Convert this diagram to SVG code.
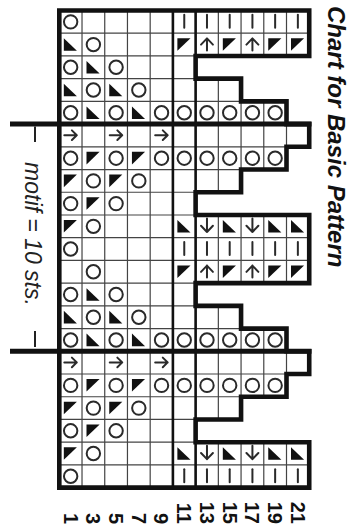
<svg xmlns="http://www.w3.org/2000/svg" width="350" height="530" viewBox="0 0 350 530">
<style>
.thin{stroke:#444;stroke-width:1.2;fill:none}
.sym{stroke:#2a2a2a;stroke-width:2;fill:none;stroke-linecap:round;stroke-linejoin:round}
.tri{fill:#111}
.thick{stroke:#111;fill:none}
.num{font-family:"Liberation Sans",Arial,sans-serif;font-weight:bold;font-size:20px;fill:#111}
</style>
<defs>
<circle id="o" class="sym" cx="11.36" cy="11.36" r="6.7"/>
<polygon id="dl" class="tri" points="4.5,5 4.5,17.6 17.6,17.6"/>
<polygon id="ul" class="tri" points="4.5,5 17.6,5 4.5,17.6"/>
<path id="ar" class="sym" d="M5,11.1 H17.5 M12.6,6.3 L17.5,11.1 L12.6,15.9"/>
<path id="au" class="sym" d="M11.36,5.2 V17.2 M5.4,11.4 L11.36,5.2 L17.3,11.4"/>
<path id="ad" class="sym" d="M11.36,3.5 V17 M5.4,10.8 L11.36,17 L17.3,10.8"/>
<path id="b" class="sym" d="M11.36,4.3 V17.3"/>
</defs>
<rect width="350" height="530" fill="#fff"/>

<g id="grid">
<path class="thin" d="M82.02,10.5V487.62 M104.74,10.5V487.62 M127.46,10.5V487.62 M150.18,10.5V487.62
M218.34,10.5V55.94 M218.34,78.66V192.26 M218.34,214.98V283.14 M218.34,305.86V419.46 M218.34,442.18V487.62
M241.06,10.5V55.94 M241.06,101.38V169.54 M241.06,214.98V283.14 M241.06,328.58V396.74 M241.06,442.18V487.62
M263.78,10.5V55.94 M263.78,101.38V169.54 M263.78,214.98V283.14 M263.78,328.58V396.74 M263.78,442.18V487.62
M286.5,10.5V55.94 M286.5,124.1V146.82 M286.5,214.98V283.14 M286.5,351.3V374.02 M286.5,442.18V487.62
M59.3,33.22H309.22 M59.3,55.94H195.62 M59.3,78.66H195.62 M59.3,101.38H241.06 M59.3,146.82H286.5 M59.3,169.54H241.06
M59.3,192.26H195.62 M59.3,214.98H195.62 M59.3,237.7H309.22 M59.3,260.42H309.22 M59.3,283.14H195.62 M59.3,305.86H195.62
M59.3,328.58H241.06 M59.3,374.02H286.5 M59.3,396.74H241.06 M59.3,419.46H195.62 M59.3,442.18H195.62 M59.3,464.9H309.22"/>
<path class="thick" stroke-width="2.6" d="M172.9,10.5V487.62 M195.62,10.5V487.62"/>
</g>

<g id="symbols">
<!-- row 1 -->
<use href="#o" x="59.3" y="10.5"/>
<use href="#b" x="172.9" y="10.5"/><use href="#b" x="195.62" y="10.5"/><use href="#b" x="218.34" y="10.5"/>
<use href="#b" x="241.06" y="10.5"/><use href="#b" x="263.78" y="10.5"/><use href="#b" x="286.5" y="10.5"/>
<!-- row 2 -->
<use href="#dl" x="59.3" y="33.22"/><use href="#o" x="82.02" y="33.22"/>
<use href="#ul" x="172.9" y="33.22"/><use href="#au" x="195.62" y="33.22"/><use href="#ul" x="218.34" y="33.22"/>
<use href="#au" x="241.06" y="33.22"/><use href="#ul" x="263.78" y="33.22"/><use href="#ul" x="286.5" y="33.22"/>
<!-- row 3 -->
<use href="#o" x="59.3" y="55.94"/><use href="#dl" x="82.02" y="55.94"/><use href="#o" x="104.74" y="55.94"/>
<!-- row 4 -->
<use href="#dl" x="59.3" y="78.66"/><use href="#o" x="82.02" y="78.66"/><use href="#dl" x="104.74" y="78.66"/><use href="#o" x="127.46" y="78.66"/>
<!-- row 5 -->
<use href="#o" x="59.3" y="101.38"/><use href="#dl" x="82.02" y="101.38"/><use href="#o" x="104.74" y="101.38"/><use href="#dl" x="127.46" y="101.38"/>
<use href="#o" x="150.18" y="101.38"/><use href="#o" x="172.9" y="101.38"/><use href="#o" x="195.62" y="101.38"/><use href="#o" x="218.34" y="101.38"/>
<use href="#o" x="241.06" y="101.38"/><use href="#o" x="263.78" y="101.38"/>
<!-- row 6 -->
<use href="#ar" x="59.3" y="124.1"/><use href="#ar" x="104.74" y="124.1"/><use href="#ar" x="150.18" y="124.1"/>
<!-- row 7 -->
<use href="#o" x="59.3" y="146.82"/><use href="#ul" x="82.02" y="146.82"/><use href="#o" x="104.74" y="146.82"/><use href="#ul" x="127.46" y="146.82"/>
<use href="#o" x="150.18" y="146.82"/><use href="#o" x="172.9" y="146.82"/><use href="#o" x="195.62" y="146.82"/><use href="#o" x="218.34" y="146.82"/>
<use href="#o" x="241.06" y="146.82"/><use href="#o" x="263.78" y="146.82"/>
<!-- row 8 -->
<use href="#ul" x="59.3" y="169.54"/><use href="#o" x="82.02" y="169.54"/><use href="#ul" x="104.74" y="169.54"/><use href="#o" x="127.46" y="169.54"/>
<!-- row 9 -->
<use href="#o" x="59.3" y="192.26"/><use href="#ul" x="82.02" y="192.26"/><use href="#o" x="104.74" y="192.26"/>
<!-- row 10 -->
<use href="#ul" x="59.3" y="214.98"/><use href="#o" x="82.02" y="214.98"/>
<use href="#dl" x="172.9" y="214.98"/><use href="#ad" x="195.62" y="214.98"/><use href="#dl" x="218.34" y="214.98"/>
<use href="#ad" x="241.06" y="214.98"/><use href="#dl" x="263.78" y="214.98"/><use href="#dl" x="286.5" y="214.98"/>
<!-- row 11 -->
<use href="#o" x="59.3" y="237.7"/>
<use href="#b" x="172.9" y="237.7"/><use href="#b" x="195.62" y="237.7"/><use href="#b" x="218.34" y="237.7"/>
<use href="#b" x="241.06" y="237.7"/><use href="#b" x="263.78" y="237.7"/><use href="#b" x="286.5" y="237.7"/>
<!-- row 12 -->
<use href="#o" x="82.02" y="260.42"/>
<use href="#ul" x="172.9" y="260.42"/><use href="#au" x="195.62" y="260.42"/><use href="#ul" x="218.34" y="260.42"/>
<use href="#au" x="241.06" y="260.42"/><use href="#ul" x="263.78" y="260.42"/><use href="#ul" x="286.5" y="260.42"/>
<!-- row 13 -->
<use href="#o" x="59.3" y="283.14"/><use href="#dl" x="82.02" y="283.14"/><use href="#o" x="104.74" y="283.14"/>
<!-- row 14 -->
<use href="#dl" x="59.3" y="305.86"/><use href="#o" x="82.02" y="305.86"/><use href="#dl" x="104.74" y="305.86"/><use href="#o" x="127.46" y="305.86"/>
<!-- row 15 -->
<use href="#o" x="59.3" y="328.58"/><use href="#dl" x="82.02" y="328.58"/><use href="#o" x="104.74" y="328.58"/><use href="#dl" x="127.46" y="328.58"/>
<use href="#o" x="150.18" y="328.58"/><use href="#o" x="172.9" y="328.58"/><use href="#o" x="195.62" y="328.58"/><use href="#o" x="218.34" y="328.58"/>
<use href="#o" x="241.06" y="328.58"/><use href="#o" x="263.78" y="328.58"/>
<!-- row 16 -->
<use href="#ar" x="59.3" y="351.3"/><use href="#ar" x="104.74" y="351.3"/><use href="#ar" x="150.18" y="351.3"/>
<!-- row 17 -->
<use href="#o" x="59.3" y="374.02"/><use href="#ul" x="82.02" y="374.02"/><use href="#o" x="104.74" y="374.02"/><use href="#ul" x="127.46" y="374.02"/>
<use href="#o" x="150.18" y="374.02"/><use href="#o" x="172.9" y="374.02"/><use href="#o" x="195.62" y="374.02"/><use href="#o" x="218.34" y="374.02"/>
<use href="#o" x="241.06" y="374.02"/><use href="#o" x="263.78" y="374.02"/>
<!-- row 18 -->
<use href="#ul" x="59.3" y="396.74"/><use href="#o" x="82.02" y="396.74"/><use href="#ul" x="104.74" y="396.74"/><use href="#o" x="127.46" y="396.74"/>
<!-- row 19 -->
<use href="#o" x="59.3" y="419.46"/><use href="#ul" x="82.02" y="419.46"/><use href="#o" x="104.74" y="419.46"/>
<!-- row 20 -->
<use href="#ul" x="59.3" y="442.18"/><use href="#o" x="82.02" y="442.18"/>
<use href="#dl" x="172.9" y="442.18"/><use href="#ad" x="195.62" y="442.18"/><use href="#dl" x="218.34" y="442.18"/>
<use href="#ad" x="241.06" y="442.18"/><use href="#dl" x="263.78" y="442.18"/><use href="#dl" x="286.5" y="442.18"/>
<!-- row 21 -->
<use href="#o" x="59.3" y="464.9"/>
<use href="#b" x="172.9" y="464.9"/><use href="#b" x="195.62" y="464.9"/><use href="#b" x="218.34" y="464.9"/>
<use href="#b" x="241.06" y="464.9"/><use href="#b" x="263.78" y="464.9"/><use href="#b" x="286.5" y="464.9"/>
</g>

<g id="outline">
<path class="thick" stroke-width="4.6" stroke-linejoin="miter" d="M59.3,10.5 H309.22 V55.94 H195.62 V78.66 H241.06 V101.38 H286.5 V124.1 H309.22 V146.82 H286.5 V169.54 H241.06 V192.26 H195.62 V214.98 H309.22 V283.14 H195.62 V305.86 H241.06 V328.58 H286.5 V351.3 H309.22 V374.02 H286.5 V396.74 H241.06 V419.46 H195.62 V442.18 H309.22 V487.62 H59.3 Z"/>
<path class="thick" stroke-width="5" d="M10,124.1 H311.5 M10,351.3 H311.5"/>
</g>

<g id="labels">
<text transform="translate(328,6) rotate(90)" font-family="'Liberation Sans',Arial,sans-serif" font-weight="bold" font-style="italic" font-size="24" fill="#111">Chart for Basic Pattern</text>
<text transform="translate(25,234) rotate(90)" text-anchor="middle" font-family="'Liberation Sans',Arial,sans-serif" font-style="italic" font-size="23" fill="#222">motif = 10 sts.</text>
<path d="M35,126.5 V142 M35,331 V347" stroke="#222" stroke-width="2" fill="none"/>
<g class="num" text-anchor="end">
<text transform="translate(63.5,524) rotate(90)">1</text>
<text transform="translate(86.2,524) rotate(90)">3</text>
<text transform="translate(108.9,524) rotate(90)">5</text>
<text transform="translate(131.6,524) rotate(90)">7</text>
<text transform="translate(154.3,524) rotate(90)">9</text>
<text transform="translate(177.1,524) rotate(90)">11</text>
<text transform="translate(199.8,524) rotate(90)">13</text>
<text transform="translate(222.5,524) rotate(90)">15</text>
<text transform="translate(245.2,524) rotate(90)">17</text>
<text transform="translate(267.9,524) rotate(90)">19</text>
<text transform="translate(290.7,524) rotate(90)">21</text>
</g>
</g>
</svg>
